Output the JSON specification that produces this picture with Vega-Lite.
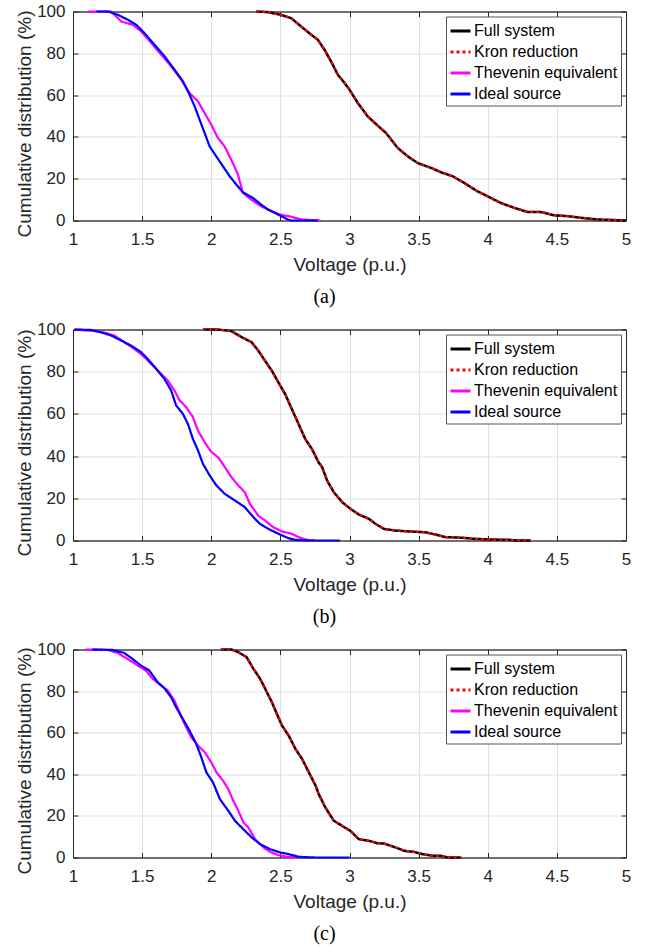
{
"$schema": "https://vega.github.io/schema/vega-lite/v6.json",
"background": "white",
"padding": {"left": 14, "top": 1.5, "right": 5, "bottom": 0},
"spacing": 12,
"data": {"values": [
{"panel":"a","series":"Thevenin equivalent","voltage":1.108,"percent":100},{"panel":"a","series":"Thevenin equivalent","voltage":1.277,"percent":100},{"panel":"a","series":"Thevenin equivalent","voltage":1.301,"percent":98.4},{"panel":"a","series":"Thevenin equivalent","voltage":1.349,"percent":95.2},{"panel":"a","series":"Thevenin equivalent","voltage":1.434,"percent":93.6},{"panel":"a","series":"Thevenin equivalent","voltage":1.494,"percent":90.4},{"panel":"a","series":"Thevenin equivalent","voltage":1.566,"percent":84.9},{"panel":"a","series":"Thevenin equivalent","voltage":1.639,"percent":79.3},{"panel":"a","series":"Thevenin equivalent","voltage":1.711,"percent":73.7},{"panel":"a","series":"Thevenin equivalent","voltage":1.783,"percent":67.4},{"panel":"a","series":"Thevenin equivalent","voltage":1.843,"percent":61},{"panel":"a","series":"Thevenin equivalent","voltage":1.904,"percent":57},{"panel":"a","series":"Thevenin equivalent","voltage":1.952,"percent":51.4},{"panel":"a","series":"Thevenin equivalent","voltage":2.0,"percent":45.9},{"panel":"a","series":"Thevenin equivalent","voltage":2.048,"percent":39.5},{"panel":"a","series":"Thevenin equivalent","voltage":2.096,"percent":35.5},{"panel":"a","series":"Thevenin equivalent","voltage":2.145,"percent":29.1},{"panel":"a","series":"Thevenin equivalent","voltage":2.193,"percent":22},{"panel":"a","series":"Thevenin equivalent","voltage":2.229,"percent":13.2},{"panel":"a","series":"Thevenin equivalent","voltage":2.289,"percent":10},{"panel":"a","series":"Thevenin equivalent","voltage":2.361,"percent":6.8},{"panel":"a","series":"Thevenin equivalent","voltage":2.434,"percent":4.5},{"panel":"a","series":"Thevenin equivalent","voltage":2.494,"percent":2.9},{"panel":"a","series":"Thevenin equivalent","voltage":2.578,"percent":1.8},{"panel":"a","series":"Thevenin equivalent","voltage":2.651,"percent":0.5},{"panel":"a","series":"Thevenin equivalent","voltage":2.79,"percent":0},
{"panel":"a","series":"Ideal source","voltage":1.169,"percent":100},{"panel":"a","series":"Ideal source","voltage":1.253,"percent":100},{"panel":"a","series":"Ideal source","voltage":1.325,"percent":98.4},{"panel":"a","series":"Ideal source","voltage":1.398,"percent":96},{"panel":"a","series":"Ideal source","voltage":1.458,"percent":93.6},{"panel":"a","series":"Ideal source","voltage":1.518,"percent":89.6},{"panel":"a","series":"Ideal source","voltage":1.59,"percent":84.1},{"panel":"a","series":"Ideal source","voltage":1.663,"percent":78.5},{"panel":"a","series":"Ideal source","voltage":1.735,"percent":72.1},{"panel":"a","series":"Ideal source","voltage":1.795,"percent":66.6},{"panel":"a","series":"Ideal source","voltage":1.843,"percent":60.2},{"panel":"a","series":"Ideal source","voltage":1.88,"percent":54.6},{"panel":"a","series":"Ideal source","voltage":1.916,"percent":48.2},{"panel":"a","series":"Ideal source","voltage":1.952,"percent":41.9},{"panel":"a","series":"Ideal source","voltage":1.988,"percent":35.5},{"panel":"a","series":"Ideal source","voltage":2.036,"percent":30.7},{"panel":"a","series":"Ideal source","voltage":2.084,"percent":26},{"panel":"a","series":"Ideal source","voltage":2.133,"percent":21.2},{"panel":"a","series":"Ideal source","voltage":2.181,"percent":17.2},{"panel":"a","series":"Ideal source","voltage":2.229,"percent":13.5},{"panel":"a","series":"Ideal source","voltage":2.301,"percent":10.8},{"panel":"a","series":"Ideal source","voltage":2.361,"percent":7.6},{"panel":"a","series":"Ideal source","voltage":2.41,"percent":5.3},{"panel":"a","series":"Ideal source","voltage":2.482,"percent":2.9},{"panel":"a","series":"Ideal source","voltage":2.554,"percent":0.5},{"panel":"a","series":"Ideal source","voltage":2.578,"percent":0},{"panel":"a","series":"Ideal source","voltage":2.771,"percent":0},
{"panel":"a","series":"Full system","voltage":2.325,"percent":100},{"panel":"a","series":"Full system","voltage":2.41,"percent":99.7},{"panel":"a","series":"Full system","voltage":2.506,"percent":98.4},{"panel":"a","series":"Full system","voltage":2.578,"percent":96.8},{"panel":"a","series":"Full system","voltage":2.651,"percent":92.8},{"panel":"a","series":"Full system","voltage":2.723,"percent":88.9},{"panel":"a","series":"Full system","voltage":2.771,"percent":86.5},{"panel":"a","series":"Full system","voltage":2.819,"percent":81.7},{"panel":"a","series":"Full system","voltage":2.867,"percent":76.1},{"panel":"a","series":"Full system","voltage":2.916,"percent":69.7},{"panel":"a","series":"Full system","voltage":2.964,"percent":65.8},{"panel":"a","series":"Full system","voltage":3.0,"percent":62.6},{"panel":"a","series":"Full system","voltage":3.06,"percent":56.2},{"panel":"a","series":"Full system","voltage":3.132,"percent":49.8},{"panel":"a","series":"Full system","voltage":3.204,"percent":45.4},{"panel":"a","series":"Full system","voltage":3.264,"percent":41.9},{"panel":"a","series":"Full system","voltage":3.349,"percent":34.7},{"panel":"a","series":"Full system","voltage":3.421,"percent":30.7},{"panel":"a","series":"Full system","voltage":3.493,"percent":27.5},{"panel":"a","series":"Full system","voltage":3.589,"percent":25.2},{"panel":"a","series":"Full system","voltage":3.661,"percent":23.1},{"panel":"a","series":"Full system","voltage":3.745,"percent":21.2},{"panel":"a","series":"Full system","voltage":3.829,"percent":18},{"panel":"a","series":"Full system","voltage":3.925,"percent":14},{"panel":"a","series":"Full system","voltage":3.998,"percent":11.6},{"panel":"a","series":"Full system","voltage":4.094,"percent":8.4},{"panel":"a","series":"Full system","voltage":4.19,"percent":6.1},{"panel":"a","series":"Full system","voltage":4.286,"percent":4.1},{"panel":"a","series":"Full system","voltage":4.382,"percent":4.1},{"panel":"a","series":"Full system","voltage":4.478,"percent":2.5},{"panel":"a","series":"Full system","voltage":4.575,"percent":2.1},{"panel":"a","series":"Full system","voltage":4.671,"percent":1.3},{"panel":"a","series":"Full system","voltage":4.791,"percent":0.5},{"panel":"a","series":"Full system","voltage":5.0,"percent":0},
{"panel":"b","series":"Thevenin equivalent","voltage":1.01,"percent":100},{"panel":"b","series":"Thevenin equivalent","voltage":1.201,"percent":99},{"panel":"b","series":"Thevenin equivalent","voltage":1.298,"percent":97.2},{"panel":"b","series":"Thevenin equivalent","voltage":1.371,"percent":94},{"panel":"b","series":"Thevenin equivalent","voltage":1.443,"percent":90.8},{"panel":"b","series":"Thevenin equivalent","voltage":1.504,"percent":87.7},{"panel":"b","series":"Thevenin equivalent","voltage":1.565,"percent":83.7},{"panel":"b","series":"Thevenin equivalent","voltage":1.625,"percent":79.8},{"panel":"b","series":"Thevenin equivalent","voltage":1.686,"percent":75.8},{"panel":"b","series":"Thevenin equivalent","voltage":1.734,"percent":71.1},{"panel":"b","series":"Thevenin equivalent","voltage":1.771,"percent":66.4},{"panel":"b","series":"Thevenin equivalent","voltage":1.819,"percent":63.2},{"panel":"b","series":"Thevenin equivalent","voltage":1.867,"percent":58.5},{"panel":"b","series":"Thevenin equivalent","voltage":1.904,"percent":52.1},{"panel":"b","series":"Thevenin equivalent","voltage":1.952,"percent":46.6},{"panel":"b","series":"Thevenin equivalent","voltage":2.001,"percent":41.9},{"panel":"b","series":"Thevenin equivalent","voltage":2.049,"percent":39.5},{"panel":"b","series":"Thevenin equivalent","voltage":2.098,"percent":34.8},{"panel":"b","series":"Thevenin equivalent","voltage":2.146,"percent":30},{"panel":"b","series":"Thevenin equivalent","voltage":2.195,"percent":26.1},{"panel":"b","series":"Thevenin equivalent","voltage":2.243,"percent":22.9},{"panel":"b","series":"Thevenin equivalent","voltage":2.279,"percent":17.4},{"panel":"b","series":"Thevenin equivalent","voltage":2.34,"percent":11.8},{"panel":"b","series":"Thevenin equivalent","voltage":2.388,"percent":9.5},{"panel":"b","series":"Thevenin equivalent","voltage":2.449,"percent":6.3},{"panel":"b","series":"Thevenin equivalent","voltage":2.51,"percent":4.3},{"panel":"b","series":"Thevenin equivalent","voltage":2.582,"percent":3.2},{"panel":"b","series":"Thevenin equivalent","voltage":2.631,"percent":1.6},{"panel":"b","series":"Thevenin equivalent","voltage":2.691,"percent":0.3},{"panel":"b","series":"Thevenin equivalent","voltage":2.752,"percent":0},
{"panel":"b","series":"Ideal source","voltage":1.01,"percent":100},{"panel":"b","series":"Ideal source","voltage":1.128,"percent":99.8},{"panel":"b","series":"Ideal source","voltage":1.201,"percent":98.7},{"panel":"b","series":"Ideal source","voltage":1.274,"percent":97.2},{"panel":"b","series":"Ideal source","voltage":1.347,"percent":94.8},{"panel":"b","series":"Ideal source","voltage":1.419,"percent":92.4},{"panel":"b","series":"Ideal source","voltage":1.492,"percent":89.3},{"panel":"b","series":"Ideal source","voltage":1.54,"percent":86.1},{"panel":"b","series":"Ideal source","voltage":1.601,"percent":81.4},{"panel":"b","series":"Ideal source","voltage":1.661,"percent":76.6},{"panel":"b","series":"Ideal source","voltage":1.71,"percent":71.1},{"panel":"b","series":"Ideal source","voltage":1.746,"percent":64},{"panel":"b","series":"Ideal source","voltage":1.795,"percent":60},{"panel":"b","series":"Ideal source","voltage":1.831,"percent":55.3},{"panel":"b","series":"Ideal source","voltage":1.867,"percent":48.2},{"panel":"b","series":"Ideal source","voltage":1.904,"percent":42.7},{"panel":"b","series":"Ideal source","voltage":1.94,"percent":36.3},{"panel":"b","series":"Ideal source","voltage":1.989,"percent":30.8},{"panel":"b","series":"Ideal source","voltage":2.037,"percent":26.1},{"panel":"b","series":"Ideal source","voltage":2.098,"percent":22.1},{"panel":"b","series":"Ideal source","voltage":2.17,"percent":19},{"panel":"b","series":"Ideal source","voltage":2.243,"percent":15.8},{"panel":"b","series":"Ideal source","voltage":2.304,"percent":11.1},{"panel":"b","series":"Ideal source","voltage":2.352,"percent":7.9},{"panel":"b","series":"Ideal source","voltage":2.413,"percent":5.5},{"panel":"b","series":"Ideal source","voltage":2.485,"percent":3.2},{"panel":"b","series":"Ideal source","voltage":2.558,"percent":1.1},{"panel":"b","series":"Ideal source","voltage":2.606,"percent":0.3},{"panel":"b","series":"Ideal source","voltage":2.703,"percent":0},{"panel":"b","series":"Ideal source","voltage":2.931,"percent":0},
{"panel":"b","series":"Full system","voltage":1.94,"percent":100},{"panel":"b","series":"Full system","voltage":2.049,"percent":100},{"panel":"b","series":"Full system","voltage":2.146,"percent":99.2},{"panel":"b","series":"Full system","voltage":2.219,"percent":96.4},{"panel":"b","series":"Full system","voltage":2.291,"percent":94},{"panel":"b","series":"Full system","voltage":2.34,"percent":90},{"panel":"b","series":"Full system","voltage":2.388,"percent":85.3},{"panel":"b","series":"Full system","voltage":2.437,"percent":80.6},{"panel":"b","series":"Full system","voltage":2.485,"percent":75},{"panel":"b","series":"Full system","voltage":2.534,"percent":69.5},{"panel":"b","series":"Full system","voltage":2.582,"percent":62.4},{"panel":"b","series":"Full system","voltage":2.631,"percent":55.3},{"panel":"b","series":"Full system","voltage":2.679,"percent":48.2},{"panel":"b","series":"Full system","voltage":2.728,"percent":43.4},{"panel":"b","series":"Full system","voltage":2.776,"percent":37.1},{"panel":"b","series":"Full system","voltage":2.802,"percent":34.8},{"panel":"b","series":"Full system","voltage":2.838,"percent":28.4},{"panel":"b","series":"Full system","voltage":2.886,"percent":22.9},{"panel":"b","series":"Full system","voltage":2.947,"percent":18.2},{"panel":"b","series":"Full system","voltage":3.007,"percent":15},{"panel":"b","series":"Full system","voltage":3.068,"percent":12.3},{"panel":"b","series":"Full system","voltage":3.14,"percent":10.3},{"panel":"b","series":"Full system","voltage":3.188,"percent":7.9},{"panel":"b","series":"Full system","voltage":3.249,"percent":5.5},{"panel":"b","series":"Full system","voltage":3.333,"percent":4.7},{"panel":"b","series":"Full system","voltage":3.43,"percent":4.3},{"panel":"b","series":"Full system","voltage":3.551,"percent":3.9},{"panel":"b","series":"Full system","voltage":3.623,"percent":2.8},{"panel":"b","series":"Full system","voltage":3.696,"percent":1.6},{"panel":"b","series":"Full system","voltage":3.816,"percent":1.3},{"panel":"b","series":"Full system","voltage":3.901,"percent":0.8},{"panel":"b","series":"Full system","voltage":4.01,"percent":0.5},{"panel":"b","series":"Full system","voltage":4.155,"percent":0.3},{"panel":"b","series":"Full system","voltage":4.215,"percent":0},{"panel":"b","series":"Full system","voltage":4.312,"percent":0},
{"panel":"c","series":"Thevenin equivalent","voltage":1.09,"percent":100},{"panel":"c","series":"Thevenin equivalent","voltage":1.248,"percent":99.8},{"panel":"c","series":"Thevenin equivalent","voltage":1.321,"percent":98.4},{"panel":"c","series":"Thevenin equivalent","voltage":1.394,"percent":95.5},{"panel":"c","series":"Thevenin equivalent","voltage":1.467,"percent":92.3},{"panel":"c","series":"Thevenin equivalent","voltage":1.527,"percent":89.9},{"panel":"c","series":"Thevenin equivalent","voltage":1.576,"percent":85.9},{"panel":"c","series":"Thevenin equivalent","voltage":1.637,"percent":82.7},{"panel":"c","series":"Thevenin equivalent","voltage":1.685,"percent":80.3},{"panel":"c","series":"Thevenin equivalent","voltage":1.734,"percent":75.4},{"panel":"c","series":"Thevenin equivalent","voltage":1.77,"percent":69.8},{"panel":"c","series":"Thevenin equivalent","voltage":1.807,"percent":64.2},{"panel":"c","series":"Thevenin equivalent","voltage":1.855,"percent":57.8},{"panel":"c","series":"Thevenin equivalent","voltage":1.904,"percent":53.8},{"panel":"c","series":"Thevenin equivalent","voltage":1.953,"percent":50.6},{"panel":"c","series":"Thevenin equivalent","voltage":2.001,"percent":45.7},{"panel":"c","series":"Thevenin equivalent","voltage":2.038,"percent":40.9},{"panel":"c","series":"Thevenin equivalent","voltage":2.086,"percent":36.9},{"panel":"c","series":"Thevenin equivalent","voltage":2.123,"percent":32.9},{"panel":"c","series":"Thevenin equivalent","voltage":2.159,"percent":27.3},{"panel":"c","series":"Thevenin equivalent","voltage":2.196,"percent":22.5},{"panel":"c","series":"Thevenin equivalent","voltage":2.232,"percent":16.9},{"panel":"c","series":"Thevenin equivalent","voltage":2.269,"percent":14.4},{"panel":"c","series":"Thevenin equivalent","voltage":2.317,"percent":8.8},{"panel":"c","series":"Thevenin equivalent","voltage":2.378,"percent":4.8},{"panel":"c","series":"Thevenin equivalent","voltage":2.426,"percent":2.7},{"panel":"c","series":"Thevenin equivalent","voltage":2.487,"percent":1.1},{"panel":"c","series":"Thevenin equivalent","voltage":2.56,"percent":0.2},{"panel":"c","series":"Thevenin equivalent","voltage":2.633,"percent":0},
{"panel":"c","series":"Ideal source","voltage":1.139,"percent":100},{"panel":"c","series":"Ideal source","voltage":1.284,"percent":99.8},{"panel":"c","series":"Ideal source","voltage":1.369,"percent":98.4},{"panel":"c","series":"Ideal source","voltage":1.43,"percent":95.5},{"panel":"c","series":"Ideal source","voltage":1.491,"percent":92.3},{"panel":"c","series":"Ideal source","voltage":1.552,"percent":89.9},{"panel":"c","series":"Ideal source","voltage":1.612,"percent":84.3},{"panel":"c","series":"Ideal source","voltage":1.661,"percent":81.4},{"panel":"c","series":"Ideal source","voltage":1.71,"percent":77},{"panel":"c","series":"Ideal source","voltage":1.746,"percent":72.2},{"panel":"c","series":"Ideal source","voltage":1.795,"percent":66.6},{"panel":"c","series":"Ideal source","voltage":1.843,"percent":61},{"panel":"c","series":"Ideal source","voltage":1.892,"percent":54.6},{"panel":"c","series":"Ideal source","voltage":1.928,"percent":48.2},{"panel":"c","series":"Ideal source","voltage":1.965,"percent":40.9},{"panel":"c","series":"Ideal source","voltage":2.013,"percent":36.1},{"panel":"c","series":"Ideal source","voltage":2.062,"percent":28.1},{"panel":"c","series":"Ideal source","voltage":2.123,"percent":22.5},{"panel":"c","series":"Ideal source","voltage":2.171,"percent":17.7},{"panel":"c","series":"Ideal source","voltage":2.232,"percent":13.6},{"panel":"c","series":"Ideal source","voltage":2.293,"percent":9.6},{"panel":"c","series":"Ideal source","voltage":2.354,"percent":6.4},{"panel":"c","series":"Ideal source","voltage":2.426,"percent":4},{"panel":"c","series":"Ideal source","voltage":2.499,"percent":2.4},{"panel":"c","series":"Ideal source","voltage":2.56,"percent":1.6},{"panel":"c","series":"Ideal source","voltage":2.633,"percent":0.3},{"panel":"c","series":"Ideal source","voltage":2.755,"percent":0},{"panel":"c","series":"Ideal source","voltage":3.0,"percent":0},
{"panel":"c","series":"Full system","voltage":2.069,"percent":100},{"panel":"c","series":"Full system","voltage":2.147,"percent":100},{"panel":"c","series":"Full system","voltage":2.196,"percent":98.7},{"panel":"c","series":"Full system","voltage":2.256,"percent":96.3},{"panel":"c","series":"Full system","voltage":2.305,"percent":90.7},{"panel":"c","series":"Full system","voltage":2.354,"percent":85.9},{"panel":"c","series":"Full system","voltage":2.39,"percent":81.1},{"panel":"c","series":"Full system","voltage":2.439,"percent":74.6},{"panel":"c","series":"Full system","voltage":2.475,"percent":69},{"panel":"c","series":"Full system","voltage":2.512,"percent":63.4},{"panel":"c","series":"Full system","voltage":2.56,"percent":58.6},{"panel":"c","series":"Full system","voltage":2.609,"percent":52.2},{"panel":"c","series":"Full system","voltage":2.657,"percent":47.4},{"panel":"c","series":"Full system","voltage":2.706,"percent":40.9},{"panel":"c","series":"Full system","voltage":2.755,"percent":34.5},{"panel":"c","series":"Full system","voltage":2.777,"percent":30.5},{"panel":"c","series":"Full system","voltage":2.825,"percent":24.1},{"panel":"c","series":"Full system","voltage":2.886,"percent":17.7},{"panel":"c","series":"Full system","voltage":2.947,"percent":15.2},{"panel":"c","series":"Full system","voltage":3.007,"percent":12.8},{"panel":"c","series":"Full system","voltage":3.068,"percent":8.8},{"panel":"c","series":"Full system","voltage":3.141,"percent":8},{"panel":"c","series":"Full system","voltage":3.201,"percent":6.9},{"panel":"c","series":"Full system","voltage":3.25,"percent":6.7},{"panel":"c","series":"Full system","voltage":3.335,"percent":4.8},{"panel":"c","series":"Full system","voltage":3.396,"percent":3.2},{"panel":"c","series":"Full system","voltage":3.468,"percent":2.7},{"panel":"c","series":"Full system","voltage":3.529,"percent":1.6},{"panel":"c","series":"Full system","voltage":3.602,"percent":0.8},{"panel":"c","series":"Full system","voltage":3.663,"percent":0.8},{"panel":"c","series":"Full system","voltage":3.711,"percent":0},{"panel":"c","series":"Full system","voltage":3.808,"percent":0}
]},
"config": {
  "font": "Liberation Sans",
  "view": {"stroke": "#262626", "strokeWidth": 1},
  "axis": {"labelFont": "Liberation Sans", "labelFontSize": 17, "labelColor": "#262626", "titleFont": "Liberation Sans", "titleFontSize": 19, "titleFontWeight": "normal", "titleColor": "#262626", "domain": true, "domainColor": "#262626", "domainWidth": 1, "tickColor": "#262626", "tickSize": -5, "tickWidth": 1, "gridColor": "#e0e0e0", "gridWidth": 1, "labelFlush": false, "labelOverlap": false},
  "legend": {"labelFont": "Liberation Sans", "labelFontSize": 16, "labelColor": "#000000", "symbolType": "stroke", "symbolSize": 400, "symbolStrokeWidth": 3, "strokeColor": "#555555", "fillColor": "white", "padding": 3, "rowPadding": 1, "labelOffset": 2, "offset": 5, "labelLimit": 300}
},
"resolve": {"scale": {"color": "independent", "strokeDash": "independent"}},
"vconcat": [
 {"width": 553, "height": 209,
  "title": {"text": "(a)", "orient": "bottom", "anchor": "middle", "frame": "group", "dx": -25, "offset": 12, "font": "Liberation Serif", "fontSize": 20, "fontWeight": "normal", "color": "#000000"},
  "transform": [{"filter": "datum.panel == 'a'"}],
  "resolve": {"axis": {"x": "independent", "y": "independent"}},
  "layer": [
   {"transform": [{"filter": "datum.series == 'Thevenin equivalent'"}], "mark": {"type": "line", "strokeWidth": 2.2},
    "encoding": {
     "x": {"field": "voltage", "type": "quantitative", "scale": {"domain": [1, 5], "nice": false, "zero": false}, "axis": {"orient": "bottom", "values": [1, 1.5, 2, 2.5, 3, 3.5, 4, 4.5, 5], "format": "~g", "title": "Voltage (p.u.)", "grid": true, "labelPadding": 16, "titleY": 44, "titleBaseline": "middle"}},
     "y": {"field": "percent", "type": "quantitative", "scale": {"domain": [0, 100], "nice": false}, "axis": {"orient": "left", "values": [0, 20, 40, 60, 80, 100], "format": "d", "title": "Cumulative distribution (%)", "grid": true, "labelPadding": 13, "titleX": -49, "titleY": 112, "titleAngle": 270, "titleAlign": "center", "titleBaseline": "middle"}},
     "color": {"field": "series", "type": "nominal", "scale": {"domain": ["Full system", "Kron reduction", "Thevenin equivalent", "Ideal source"], "range": ["#000000", "#ff0000", "#ff00ff", "#0000ff"]}, "legend": {"title": null, "orient": "top-right"}},
     "strokeDash": {"field": "series", "type": "nominal", "scale": {"domain": ["Full system", "Kron reduction", "Thevenin equivalent", "Ideal source"], "range": [[1, 0], [3, 3], [1, 0], [1, 0]]}, "legend": {"title": null, "orient": "top-right"}}
    }},
   {"transform": [{"filter": "datum.series == 'Ideal source'"}], "mark": {"type": "line", "strokeWidth": 2.2},
    "encoding": {
     "x": {"field": "voltage", "type": "quantitative", "axis": null},
     "y": {"field": "percent", "type": "quantitative", "axis": null},
     "color": {"field": "series", "type": "nominal", "legend": {"title": null, "orient": "top-right"}},
     "strokeDash": {"field": "series", "type": "nominal", "legend": {"title": null, "orient": "top-right"}}
    }},
   {"transform": [{"filter": "datum.series == 'Full system'"}], "mark": {"type": "line", "strokeWidth": 2.5},
    "encoding": {
     "x": {"field": "voltage", "type": "quantitative", "axis": null},
     "y": {"field": "percent", "type": "quantitative", "axis": null},
     "color": {"field": "series", "type": "nominal", "legend": {"title": null, "orient": "top-right"}},
     "strokeDash": {"field": "series", "type": "nominal", "legend": {"title": null, "orient": "top-right"}}
    }},
   {"transform": [{"filter": "datum.series == 'Full system'"}], "mark": {"type": "line", "color": "#ff0000", "strokeDash": [3, 3], "strokeWidth": 2.2},
    "encoding": {
     "x": {"field": "voltage", "type": "quantitative", "axis": null},
     "y": {"field": "percent", "type": "quantitative", "axis": null}
    }},
   {"transform": [{"filter": "datum.series == 'Full system'"}], "mark": {"type": "line", "opacity": 0},
    "encoding": {
     "x": {"field": "voltage", "type": "quantitative", "axis": {"orient": "top", "labels": false, "title": null, "grid": false, "values": [1, 1.5, 2, 2.5, 3, 3.5, 4, 4.5, 5]}},
     "y": {"field": "percent", "type": "quantitative", "axis": {"orient": "right", "labels": false, "title": null, "grid": false, "values": [0, 20, 40, 60, 80, 100]}}
    }}
  ]},
 {"width": 553, "height": 211,
  "title": {"text": "(b)", "orient": "bottom", "anchor": "middle", "frame": "group", "dx": -25, "offset": 12, "font": "Liberation Serif", "fontSize": 20, "fontWeight": "normal", "color": "#000000"},
  "transform": [{"filter": "datum.panel == 'b'"}],
  "resolve": {"axis": {"x": "independent", "y": "independent"}},
  "layer": [
   {"transform": [{"filter": "datum.series == 'Thevenin equivalent'"}], "mark": {"type": "line", "strokeWidth": 2.2},
    "encoding": {
     "x": {"field": "voltage", "type": "quantitative", "scale": {"domain": [1, 5], "nice": false, "zero": false}, "axis": {"orient": "bottom", "values": [1, 1.5, 2, 2.5, 3, 3.5, 4, 4.5, 5], "format": "~g", "title": "Voltage (p.u.)", "grid": true, "labelPadding": 16, "titleY": 44, "titleBaseline": "middle"}},
     "y": {"field": "percent", "type": "quantitative", "scale": {"domain": [0, 100], "nice": false}, "axis": {"orient": "left", "values": [0, 20, 40, 60, 80, 100], "format": "d", "title": "Cumulative distribution (%)", "grid": true, "labelPadding": 13, "titleX": -49, "titleY": 113, "titleAngle": 270, "titleAlign": "center", "titleBaseline": "middle"}},
     "color": {"field": "series", "type": "nominal", "scale": {"domain": ["Full system", "Kron reduction", "Thevenin equivalent", "Ideal source"], "range": ["#000000", "#ff0000", "#ff00ff", "#0000ff"]}, "legend": {"title": null, "orient": "top-right"}},
     "strokeDash": {"field": "series", "type": "nominal", "scale": {"domain": ["Full system", "Kron reduction", "Thevenin equivalent", "Ideal source"], "range": [[1, 0], [3, 3], [1, 0], [1, 0]]}, "legend": {"title": null, "orient": "top-right"}}
    }},
   {"transform": [{"filter": "datum.series == 'Ideal source'"}], "mark": {"type": "line", "strokeWidth": 2.2},
    "encoding": {
     "x": {"field": "voltage", "type": "quantitative", "axis": null},
     "y": {"field": "percent", "type": "quantitative", "axis": null},
     "color": {"field": "series", "type": "nominal", "legend": {"title": null, "orient": "top-right"}},
     "strokeDash": {"field": "series", "type": "nominal", "legend": {"title": null, "orient": "top-right"}}
    }},
   {"transform": [{"filter": "datum.series == 'Full system'"}], "mark": {"type": "line", "strokeWidth": 2.5},
    "encoding": {
     "x": {"field": "voltage", "type": "quantitative", "axis": null},
     "y": {"field": "percent", "type": "quantitative", "axis": null},
     "color": {"field": "series", "type": "nominal", "legend": {"title": null, "orient": "top-right"}},
     "strokeDash": {"field": "series", "type": "nominal", "legend": {"title": null, "orient": "top-right"}}
    }},
   {"transform": [{"filter": "datum.series == 'Full system'"}], "mark": {"type": "line", "color": "#ff0000", "strokeDash": [3, 3], "strokeWidth": 2.2},
    "encoding": {
     "x": {"field": "voltage", "type": "quantitative", "axis": null},
     "y": {"field": "percent", "type": "quantitative", "axis": null}
    }},
   {"transform": [{"filter": "datum.series == 'Full system'"}], "mark": {"type": "line", "opacity": 0},
    "encoding": {
     "x": {"field": "voltage", "type": "quantitative", "axis": {"orient": "top", "labels": false, "title": null, "grid": false, "values": [1, 1.5, 2, 2.5, 3, 3.5, 4, 4.5, 5]}},
     "y": {"field": "percent", "type": "quantitative", "axis": {"orient": "right", "labels": false, "title": null, "grid": false, "values": [0, 20, 40, 60, 80, 100]}}
    }}
  ]},
 {"width": 553, "height": 208,
  "title": {"text": "(c)", "orient": "bottom", "anchor": "middle", "frame": "group", "dx": -25, "offset": 12, "font": "Liberation Serif", "fontSize": 20, "fontWeight": "normal", "color": "#000000"},
  "transform": [{"filter": "datum.panel == 'c'"}],
  "resolve": {"axis": {"x": "independent", "y": "independent"}},
  "layer": [
   {"transform": [{"filter": "datum.series == 'Thevenin equivalent'"}], "mark": {"type": "line", "strokeWidth": 2.2},
    "encoding": {
     "x": {"field": "voltage", "type": "quantitative", "scale": {"domain": [1, 5], "nice": false, "zero": false}, "axis": {"orient": "bottom", "values": [1, 1.5, 2, 2.5, 3, 3.5, 4, 4.5, 5], "format": "~g", "title": "Voltage (p.u.)", "grid": true, "labelPadding": 16, "titleY": 44, "titleBaseline": "middle"}},
     "y": {"field": "percent", "type": "quantitative", "scale": {"domain": [0, 100], "nice": false}, "axis": {"orient": "left", "values": [0, 20, 40, 60, 80, 100], "format": "d", "title": "Cumulative distribution (%)", "grid": true, "labelPadding": 13, "titleX": -49, "titleY": 111, "titleAngle": 270, "titleAlign": "center", "titleBaseline": "middle"}},
     "color": {"field": "series", "type": "nominal", "scale": {"domain": ["Full system", "Kron reduction", "Thevenin equivalent", "Ideal source"], "range": ["#000000", "#ff0000", "#ff00ff", "#0000ff"]}, "legend": {"title": null, "orient": "top-right"}},
     "strokeDash": {"field": "series", "type": "nominal", "scale": {"domain": ["Full system", "Kron reduction", "Thevenin equivalent", "Ideal source"], "range": [[1, 0], [3, 3], [1, 0], [1, 0]]}, "legend": {"title": null, "orient": "top-right"}}
    }},
   {"transform": [{"filter": "datum.series == 'Ideal source'"}], "mark": {"type": "line", "strokeWidth": 2.2},
    "encoding": {
     "x": {"field": "voltage", "type": "quantitative", "axis": null},
     "y": {"field": "percent", "type": "quantitative", "axis": null},
     "color": {"field": "series", "type": "nominal", "legend": {"title": null, "orient": "top-right"}},
     "strokeDash": {"field": "series", "type": "nominal", "legend": {"title": null, "orient": "top-right"}}
    }},
   {"transform": [{"filter": "datum.series == 'Full system'"}], "mark": {"type": "line", "strokeWidth": 2.5},
    "encoding": {
     "x": {"field": "voltage", "type": "quantitative", "axis": null},
     "y": {"field": "percent", "type": "quantitative", "axis": null},
     "color": {"field": "series", "type": "nominal", "legend": {"title": null, "orient": "top-right"}},
     "strokeDash": {"field": "series", "type": "nominal", "legend": {"title": null, "orient": "top-right"}}
    }},
   {"transform": [{"filter": "datum.series == 'Full system'"}], "mark": {"type": "line", "color": "#ff0000", "strokeDash": [3, 3], "strokeWidth": 2.2},
    "encoding": {
     "x": {"field": "voltage", "type": "quantitative", "axis": null},
     "y": {"field": "percent", "type": "quantitative", "axis": null}
    }},
   {"transform": [{"filter": "datum.series == 'Full system'"}], "mark": {"type": "line", "opacity": 0},
    "encoding": {
     "x": {"field": "voltage", "type": "quantitative", "axis": {"orient": "top", "labels": false, "title": null, "grid": false, "values": [1, 1.5, 2, 2.5, 3, 3.5, 4, 4.5, 5]}},
     "y": {"field": "percent", "type": "quantitative", "axis": {"orient": "right", "labels": false, "title": null, "grid": false, "values": [0, 20, 40, 60, 80, 100]}}
    }}
  ]}
]
}
